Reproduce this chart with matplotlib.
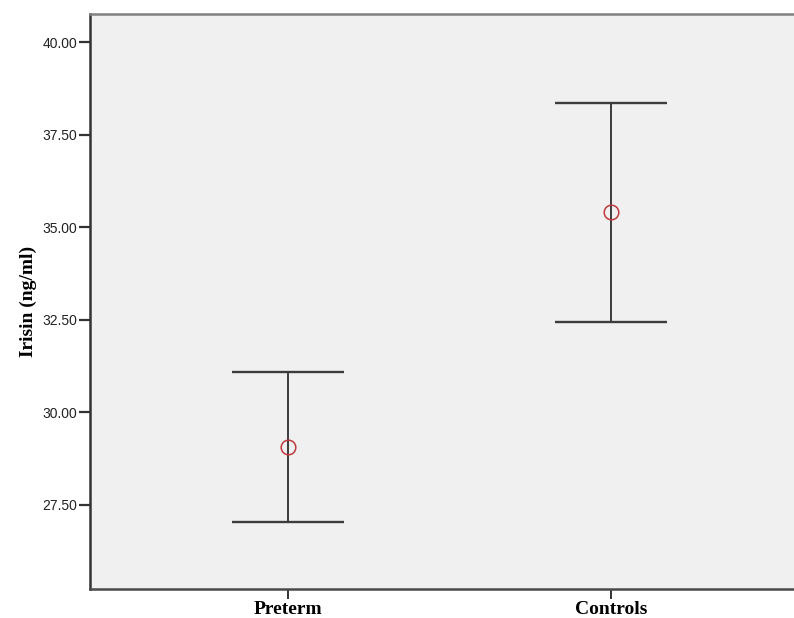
import matplotlib
matplotlib.use("Agg")
import matplotlib.pyplot as plt

# ---------- data ----------
groups = ["Preterm", "Controls"]
means = [29.08, 35.42]
upper = [31.09, 38.36]
lower = [27.04, 32.44]
yticks = [27.5, 30.0, 32.5, 35.0, 37.5, 40.0]

fig = plt.figure(figsize=(7.94, 6.18), dpi=100)
ax = fig.add_axes([0.1134, 0.047, 0.8866, 0.931])
ax.set_facecolor("#f0f0f0")

x = list(range(len(groups)))
yerr = [[m - lo for m, lo in zip(means, lower)],
        [up - m for m, up in zip(means, upper)]]
# capsize is in points: ~56 px half width at 100 dpi
ax.errorbar(x, means, yerr=yerr, fmt="none", ecolor="#3c3c3c",
            elinewidth=1.4, capsize=40.5, capthick=1.7, zorder=2)
ax.plot(x, means, linestyle="none", marker="o", markersize=10.5,
        markerfacecolor="none", markeredgecolor="#c0393b",
        markeredgewidth=1.1, zorder=3)

ax.set_xlim(-0.612, 1.567)
ax.set_ylim(25.23, 40.78)
ax.set_xticks(x)
ax.set_xticklabels(groups, family="Liberation Serif", fontweight="bold",
                   fontsize=14)
ax.set_yticks(yticks)
ax.set_yticklabels([f"{v:.2f}" for v in yticks], family="Liberation Sans",
                   fontsize=10, color="#222222")
ax.tick_params(axis="y", direction="out", length=8, width=1.6,
               color="#333333", pad=1)
ax.tick_params(axis="x", direction="out", length=7, width=1.4,
               color="#333333", pad=2)
ax.set_ylabel("Irisin (ng/ml)", family="Liberation Serif",
              fontweight="bold", fontsize=14, labelpad=4)

ax.spines["right"].set_visible(False)
ax.spines["left"].set_color("#333333")
ax.spines["left"].set_linewidth(1.8)
ax.spines["bottom"].set_color("#4a4a4a")
ax.spines["bottom"].set_linewidth(1.8)
ax.spines["top"].set_color("#808080")
ax.spines["top"].set_linewidth(1.8)

fig.savefig("out.png", dpi=100, facecolor="white")
